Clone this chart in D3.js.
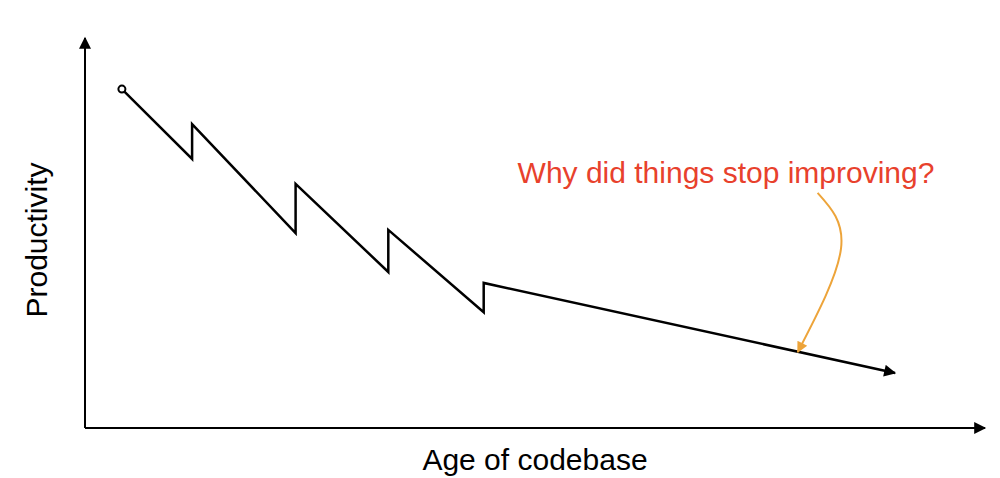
<!DOCTYPE html>
<html>
<head>
<meta charset="utf-8">
<script src="https://d3js.org/d3.v7.min.js"></script>
<style>
  body { margin: 0; background: #fff; }
  text { font-family: "Liberation Sans", Helvetica, Arial, sans-serif; }
</style>
</head>
<body>
<script>
// age of codebase (0-100) vs productivity (0-100)
var age = [4.1, 11.9, 11.9, 23.4, 23.4, 33.7, 33.7, 44.3, 44.3, 90];
var productivity = [86.9, 69.0, 77.9, 50.0, 62.6, 40.0, 50.8, 29.7, 37.2, 14.1];

// annotation arrow: from text down to the flat tail
var noteAge = [81.4, 84.0, 79.2];
var noteProd = [60.3, 46.0, 19.5];

var width = 1000, height = 478;

var svg = d3.select("body").append("svg")
  .attr("width", width)
  .attr("height", height);

var x = d3.scaleLinear().domain([0, 100]).range([85, 985]);
var y = d3.scaleLinear().domain([0, 100]).range([428, 38]);

var defs = svg.append("defs");
function arrowMarker(id, color, w, h) {
  defs.append("marker")
    .attr("id", id)
    .attr("viewBox", "0 0 10 10")
    .attr("refX", 9)
    .attr("refY", 5)
    .attr("markerUnits", "userSpaceOnUse")
    .attr("markerWidth", w)
    .attr("markerHeight", h)
    .attr("orient", "auto")
    .append("path")
    .attr("d", "M0,0 L10,5 L0,10 Z")
    .attr("fill", color);
}
arrowMarker("arrow", "#000", 14, 12);
arrowMarker("arrow-orange", "#eda43a", 14, 11);

// axes
svg.append("line")
  .attr("x1", x(0)).attr("y1", y(0))
  .attr("x2", x(0)).attr("y2", y(100))
  .attr("stroke", "#000").attr("stroke-width", 2)
  .attr("marker-end", "url(#arrow)");

svg.append("line")
  .attr("x1", x(0)).attr("y1", y(0))
  .attr("x2", x(100)).attr("y2", y(0))
  .attr("stroke", "#000").attr("stroke-width", 2)
  .attr("marker-end", "url(#arrow)");

// productivity line
var pts = age.map((a, i) => [x(a), y(productivity[i])]);

svg.append("path")
  .datum(pts)
  .attr("d", d3.line())
  .attr("fill", "none")
  .attr("stroke", "#000")
  .attr("stroke-width", 2.5)
  .attr("stroke-linejoin", "miter")
  .attr("marker-end", "url(#arrow)");

svg.append("circle")
  .attr("cx", pts[0][0])
  .attr("cy", pts[0][1])
  .attr("r", 3.5)
  .attr("fill", "#fff")
  .attr("stroke", "#000")
  .attr("stroke-width", 2);

// annotation
var notePts = noteAge.map((a, i) => [x(a), y(noteProd[i])]);
svg.append("path")
  .datum(notePts)
  .attr("d", d3.line().curve(d3.curveNatural))
  .attr("fill", "none")
  .attr("stroke", "#eda43a")
  .attr("stroke-width", 2)
  .attr("marker-end", "url(#arrow-orange)");

svg.append("text")
  .attr("x", 726)
  .attr("y", 183)
  .attr("text-anchor", "middle")
  .attr("fill", "#e8412c")
  .style("font-size", "30px")
  .text("Why did things stop improving?");

// axis labels
svg.append("text")
  .attr("x", 535)
  .attr("y", 470)
  .attr("text-anchor", "middle")
  .attr("fill", "#000")
  .style("font-size", "30px")
  .text("Age of codebase");

svg.append("text")
  .attr("transform", "translate(47,240) rotate(-90)")
  .attr("text-anchor", "middle")
  .attr("fill", "#000")
  .style("font-size", "30px")
  .text("Productivity");
</script>
</body>
</html>
